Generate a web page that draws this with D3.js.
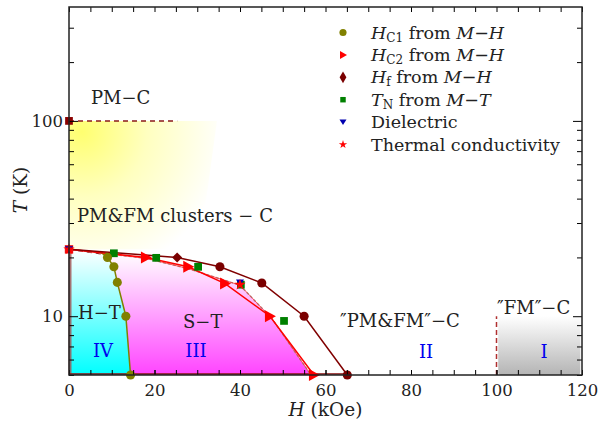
<!DOCTYPE html>
<html lang="en">
<head>
<meta charset="UTF-8">
<title>Phase diagram</title>
<style>
  body { margin: 0; background: #fff; }
  svg text, svg tspan { font-family: "DejaVu Serif", serif; }
</style>
</head>
<body>
<svg id="graph"></svg>
<script src="https://d3js.org/d3.v7.min.js"></script>
<script>
// data (H in kOe, T in K)
const hc1H = [9.0, 10.5, 11.3, 13.3, 14.4];
const hc1T = [20.0, 17.9, 14.9, 10.0, 5.0];
const htLineH = [7.5, 9.0, 10.5, 11.3, 13.3, 14.4];
const htLineT = [21.2, 20.0, 17.9, 14.9, 10.0, 5.0];
const hc2H = [0, 18.0, 27.9, 36.5, 47.0, 57.3];
const hc2T = [22, 20.0, 17.9, 14.7, 10.0, 5.0];
const hfH = [0, 25.3, 35.3, 45.1, 55.0, 65.1];
const hfT = [22, 20.0, 17.9, 14.8, 10.0, 5.0];
const tnH = [0, 10.5, 20.4, 30.2, 40.2, 50.3];
const tnT = [22, 21.0, 19.9, 17.9, 14.5, 9.46];
const dielH = [0, 40.0];
const dielT = [22, 14.9];
const tcH = [0, 40.0];
const tcT = [22, 14.5];
const tcLineH = [0, 18.0, 28.0, 40.0, 47.5, 56.6];
const tcLineT = [22, 19.8, 17.5, 14.4, 9.7, 5.0];
const pmcH = [0, 25.3];
const pmcT = [100, 100];
const clusterH = [0, 34.6, 30.5, 0];
const clusterT = [100, 100, 22, 22];
const fmH = [100.4, 119.6];
const fmT = [5, 10];

const width = 608, height = 425;
const margin = { top: 7, right: 26, bottom: 50, left: 69 };

const svg = d3.select('#graph').attr('width', width).attr('height', height);

const x = d3.scaleLinear().domain([0, 120]).range([margin.left, width - margin.right]);
const y = d3.scaleLog().domain([5, 383]).range([height - margin.bottom, margin.top]);

const zip = (a, b) => a.map((v, i) => [v, b[i]]);
const line = d3.line().x(d => x(d[0])).y(d => y(d[1]));

const defs = svg.append('defs');
const yellow = defs.append('radialGradient').attr('id', 'gYellow')
  .attr('gradientUnits', 'userSpaceOnUse')
  .attr('cx', x(3)).attr('cy', y(88)).attr('r', 145);
yellow.append('stop').attr('offset', 0).attr('stop-color', '#ffff70');
yellow.append('stop').attr('offset', 0.45).attr('stop-color', '#ffffc0');
yellow.append('stop').attr('offset', 1).attr('stop-color', '#ffffff');

function vGrad(id, top, bottom) {
  const g = defs.append('linearGradient').attr('id', id).attr('x1', 0).attr('y1', 0).attr('x2', 0).attr('y2', 1);
  g.append('stop').attr('offset', 0).attr('stop-color', top);
  g.append('stop').attr('offset', 1).attr('stop-color', bottom);
}
vGrad('gCyan', '#ffffff', '#00ffff');
vGrad('gMag', '#ffffff', '#ff44ff');
vGrad('gGrey', '#ffffff', '#b4b4b4');

// regions
svg.append('path').attr('d', line(zip(clusterH, clusterT)) + 'Z').attr('fill', 'url(#gYellow)');

const cyanPts = [[0, 5], [0, 22]].concat(zip(htLineH, htLineT));
svg.append('path').attr('d', line(cyanPts) + 'Z').attr('fill', 'url(#gCyan)');

const magPts = zip(htLineH, htLineT).reverse()
  .concat(zip(tcLineH, tcLineT).filter(d => d[0] > 8));
svg.append('path').attr('d', line(magPts) + 'Z').attr('fill', 'url(#gMag)');

svg.append('rect')
  .attr('x', x(fmH[0])).attr('y', y(fmT[1]))
  .attr('width', x(fmH[1]) - x(fmH[0])).attr('height', y(fmT[0]) - y(fmT[1]))
  .attr('rx', 3).attr('fill', 'url(#gGrey)');

// boundary lines
svg.append('line').attr('x1', x(0) + 1).attr('x2', x(0) + 1).attr('y1', y(5)).attr('y2', y(22))
  .attr('stroke', '#a05050').attr('stroke-width', 3).attr('opacity', 0.8);
svg.append('line').attr('x1', x(0)).attr('x2', x(65.1)).attr('y1', y(5) - 1).attr('y2', y(5) - 1)
  .attr('stroke', '#8b1a1a').attr('stroke-width', 2).attr('opacity', 0.8);
svg.append('path').attr('d', line(zip(pmcH, pmcT)))
  .attr('fill', 'none').attr('stroke', '#8b1a1a').attr('stroke-width', 1.5).attr('stroke-dasharray', '5,4');
svg.append('path').attr('d', line([[100, 5], [100, 10]]))
  .attr('fill', 'none').attr('stroke', '#b03030').attr('stroke-width', 1.5).attr('stroke-dasharray', '5,3');
svg.append('path').attr('d', line([[0, 22], [8, 20.8]]))
  .attr('fill', 'none').attr('stroke', '#8b1a1a').attr('stroke-width', 1.5).attr('stroke-dasharray', '5,4');

svg.append('path').attr('d', line(zip(tcLineH, tcLineT)))
  .attr('fill', 'none').attr('stroke', '#999').attr('stroke-width', 1.5).attr('stroke-dasharray', '3,2');
svg.append('path').attr('d', line(zip(tcLineH, tcLineT)))
  .attr('fill', 'none').attr('stroke', '#ff3030').attr('stroke-width', 0.8);
svg.append('path').attr('d', line(zip(htLineH, htLineT)))
  .attr('fill', 'none').attr('stroke', '#808000').attr('stroke-width', 1.5);
svg.append('path').attr('d', line(zip(hc2H, hc2T)))
  .attr('fill', 'none').attr('stroke', '#ff0000').attr('stroke-width', 1.5);
svg.append('path').attr('d', line(zip(hfH, hfT)))
  .attr('fill', 'none').attr('stroke', '#800000').attr('stroke-width', 1.5);

// markers
const sym = (type, size) => d3.symbol().type(type).size(size)();
const triRight = 'M-5,-6L6,0L-5,6Z';
const triDown = 'M-4,-3L4,-3L0,4Z';

function markers(hs, ts, path, color, rot) {
  svg.append('g').selectAll('path').data(zip(hs, ts)).enter().append('path')
    .attr('d', path)
    .attr('transform', d => `translate(${x(d[0])},${y(d[1])})` + (rot ? ` rotate(${rot})` : ''))
    .attr('fill', color);
}
markers(tnH.slice(1), tnT.slice(1), sym(d3.symbolSquare, 60), '#008000');
markers([pmcH[0]], [pmcT[0]], sym(d3.symbolSquare, 60), '#8b0000');
markers([0], [22], sym(d3.symbolSquare, 70), '#ee1111');
markers(hfH.slice(1, 2), hfT.slice(1, 2), sym(d3.symbolSquare, 50), '#7a0000', 45);
markers(hfH.slice(2), hfT.slice(2), sym(d3.symbolCircle, 65), '#7a0000');
markers(hc1H, hc1T, sym(d3.symbolCircle, 65), '#808000');
markers(hc2H.slice(1), hc2T.slice(1), triRight, '#ff0000');
markers(dielH, dielT, triDown, '#0000b0');
markers(tcH, tcT, sym(d3.symbolStar, 40), '#ff0000');

// axes
const x0 = margin.left, x1 = width - margin.right, y0 = height - margin.bottom, y1 = margin.top;
const xMajor = d3.range(0, 121, 20);
const xMinor = d3.range(0, 121, 5);
const yMajor = [10, 100];
const yMinor = [5, 6, 7, 8, 9, 20, 30, 40, 50, 60, 70, 80, 90, 200, 300];

svg.append('g').attr('transform', `translate(0,${y0})`)
  .call(d3.axisBottom(x).tickValues(xMinor).tickSize(-5).tickFormat(''))
  .call(g => g.select('.domain').remove());
svg.append('g').attr('transform', `translate(0,${y0})`)
  .call(d3.axisBottom(x).tickValues(xMajor).tickSize(-5).tickPadding(9).tickFormat(d3.format('d')))
  .call(g => g.select('.domain').remove())
  .call(g => g.selectAll('text').attr('font-size', 16.5).attr('font-family', 'DejaVu Serif').attr('fill', '#222'));
svg.append('g').attr('transform', `translate(0,${y1})`)
  .call(d3.axisTop(x).tickValues(xMinor).tickSize(-5).tickFormat(''))
  .call(g => g.select('.domain').remove());

svg.append('g').attr('transform', `translate(${x0},0)`)
  .call(d3.axisLeft(y).tickValues(yMinor).tickSize(-5).tickFormat(''))
  .call(g => g.select('.domain').remove());
svg.append('g').attr('transform', `translate(${x0},0)`)
  .call(d3.axisLeft(y).tickValues(yMajor).tickSize(-9).tickPadding(6).tickFormat(d3.format('d')))
  .call(g => g.select('.domain').remove())
  .call(g => g.selectAll('text').attr('font-size', 16.5).attr('font-family', 'DejaVu Serif').attr('fill', '#222'));
svg.append('g').attr('transform', `translate(${x1},0)`)
  .call(d3.axisRight(y).tickValues(yMinor).tickSize(-5).tickFormat(''))
  .call(g => g.select('.domain').remove());
svg.append('g').attr('transform', `translate(${x1},0)`)
  .call(d3.axisRight(y).tickValues(yMajor).tickSize(-9).tickFormat(''))
  .call(g => g.select('.domain').remove());

svg.append('rect').attr('x', x0).attr('y', y1).attr('width', x1 - x0).attr('height', y0 - y1)
  .attr('fill', 'none').attr('stroke', '#222').attr('stroke-width', 1.5);

// rich text helper: parts = [text, style] where style: 'i' italic, 's' subscript, 'u' back up
function rich(g, px, py, parts, opts = {}) {
  const t = g.append('text').attr('x', px).attr('y', py)
    .attr('font-family', 'DejaVu Serif')
    .attr('font-size', opts.size || 18).attr('fill', opts.color || '#222')
    .attr('text-anchor', opts.anchor || 'start');
  parts.forEach(([s, st]) => {
    const span = t.append('tspan').text(s);
    if (st.includes('i')) span.attr('font-style', 'italic');
    if (st.includes('s')) span.attr('font-size', 12).attr('dy', 3);
    if (st.includes('u')) span.attr('dy', -3);
  });
  return t;
}

svg.append('text').attr('x', x(60)).attr('y', 416).attr('text-anchor', 'middle')
  .attr('font-family', 'DejaVu Serif').attr('font-size', 18.5).attr('fill', '#222')
  .call(t => { t.append('tspan').attr('font-style', 'italic').text('H'); t.append('tspan').text(' (kOe)'); });
svg.append('text').attr('transform', 'translate(27,190) rotate(-90)').attr('text-anchor', 'middle')
  .attr('font-family', 'DejaVu Serif').attr('font-size', 18.5).attr('fill', '#222')
  .call(t => { t.append('tspan').attr('font-style', 'italic').text('T'); t.append('tspan').text(' (K)'); });

// legend
const legend = svg.append('g');
const legendRows = [
  { path: sym(d3.symbolCircle, 40), color: '#808000', parts: [['H', 'i'], ['C1', 's'], [' from ', 'u'], ['M', 'i'], ['\u2212', ''], ['H', 'i']] },
  { path: 'M-3,-4L4,0L-3,4Z', color: '#ff0000', parts: [['H', 'i'], ['C2', 's'], [' from ', 'u'], ['M', 'i'], ['\u2212', ''], ['H', 'i']] },
  { path: sym(d3.symbolDiamond, 40), color: '#7a0000', parts: [['H', 'i'], ['f', 's'], ['  from ', 'u'], ['M', 'i'], ['\u2212', ''], ['H', 'i']] },
  { path: sym(d3.symbolSquare, 30), color: '#008000', parts: [['T', 'i'], ['N', 's'], [' from ', 'u'], ['M', 'i'], ['\u2212', ''], ['T', 'i']] },
  { path: 'M-3.5,-2.5L3.5,-2.5L0,3Z', color: '#0000b0', parts: [['Dielectric', '']] },
  { path: sym(d3.symbolStar, 22), color: '#ff0000', parts: [['Thermal conductivity', '']] }
];
legendRows.forEach((r, i) => {
  const cy = 32.5 + i * 22.4;
  legend.append('path').attr('d', r.path).attr('fill', r.color).attr('transform', `translate(343,${cy})`);
  rich(legend, 371, cy + 6, r.parts, { size: 17.5 });
});

// region labels
rich(svg, 91, 104, [['PM\u2212C', '']]);
rich(svg, 77, 222, [['PM&FM clusters \u2212 C', '']]);
rich(svg, 78, 319, [['H\u2212T', '']]);
rich(svg, 183, 328, [['S\u2212T', '']]);
rich(svg, 340, 327, [['\u2033PM&FM\u2033\u2212C', '']]);
rich(svg, 497, 314, [['\u2033FM\u2033\u2212C', '']]);
rich(svg, 103, 357, [['IV', '']], { color: '#0000ee', anchor: 'middle' });
rich(svg, 196, 357, [['III', '']], { color: '#0000ee', anchor: 'middle' });
rich(svg, 426, 358, [['II', '']], { color: '#0000ee', anchor: 'middle' });
rich(svg, 544, 358, [['I', '']], { color: '#0000ee', anchor: 'middle' });
</script>
</body>
</html>
